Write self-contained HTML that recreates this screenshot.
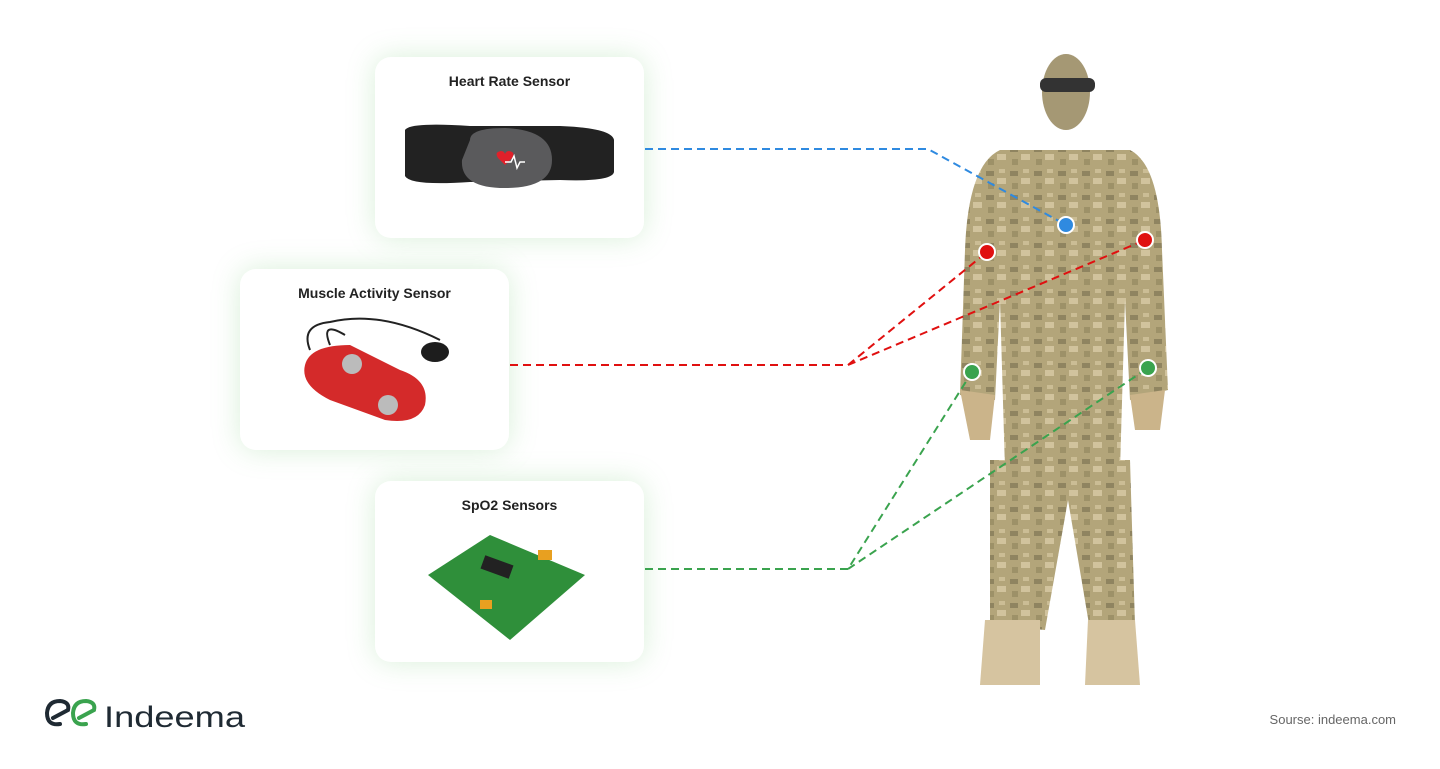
<!DOCTYPE html>
<html><head><meta charset="utf-8"><style>
body{margin:0;width:1440px;height:769px;background:#fff;position:relative;overflow:hidden;font-family:"Liberation Sans",sans-serif}
.card{position:absolute;width:269px;height:181px;background:#fff;border-radius:16px;box-shadow:0 0 28px rgba(120,200,120,.28)}
.card .t{position:absolute;top:16px;width:100%;text-align:center;font-size:14px;font-weight:bold;color:#222}
svg{position:absolute;left:0;top:0}
</style></head><body>
<div class="card" style="left:375px;top:57px"><div class="t">Heart Rate Sensor</div></div>
<div class="card" style="left:240px;top:269px"><div class="t">Muscle Activity Sensor</div></div>
<div class="card" style="left:375px;top:481px"><div class="t">SpO2 Sensors</div></div>
<svg width="1440" height="769">
<defs>
<pattern id="camo" width="24" height="24" patternUnits="userSpaceOnUse">
<rect width="24" height="24" fill="#b3a57a"/>
<rect x="2" y="3" width="8" height="5" fill="#8f8460"/>
<rect x="13" y="10" width="9" height="6" fill="#d1c39d"/>
<rect x="4" y="15" width="6" height="6" fill="#9d9168"/>
<rect x="15" y="1" width="6" height="4" fill="#cbbd95"/>
</pattern>
</defs>
<path d="M405 130 Q410 122 470 126 L560 126 Q612 128 614 140 L614 172 Q612 182 560 180 L470 182 Q410 186 405 176 Z" fill="#222"/>
<path d="M470 140 Q470 128 505 128 Q552 130 552 160 Q552 188 505 188 Q460 188 462 160 Z" fill="#5a5a5c"/>
<path d="M498 158 q-4-6 3-7 q3 0 4 3 q1-3 4-3 q7 1 3 7 l-7 7z" fill="#e0202a"/>
<polyline points="505,162 511,162 514,156 517,168 520,162 525,162" stroke="#fff" stroke-width="1.5" fill="none"/>
<path d="M330 345 Q320 320 345 335" stroke="#222" stroke-width="2" fill="none"/>
<path d="M310 350 Q300 325 330 322 Q380 310 440 340" stroke="#222" stroke-width="2" fill="none"/>
<ellipse cx="435" cy="352" rx="14" ry="10" fill="#1d1d1d"/>
<path d="M305 365 Q310 345 350 345 L400 370 Q430 380 425 405 Q418 425 385 420 L330 400 Q300 385 305 365Z" fill="#d42a2a"/>
<circle cx="352" cy="364" r="10" fill="#bbb"/><circle cx="388" cy="405" r="10" fill="#bbb"/>
<path d="M428 575 L490 535 L585 575 L510 640 Z" fill="#2f8f3a"/>
<rect x="482" y="560" width="30" height="14" fill="#222" transform="rotate(20 497 567)"/>
<rect x="538" y="550" width="14" height="10" fill="#e8a020"/><rect x="480" y="600" width="12" height="9" fill="#e8a020"/>
<g fill="url(#camo)">
<ellipse cx="1066" cy="92" rx="24" ry="38" fill="#a59874"/>
<rect x="1040" y="78" width="55" height="14" rx="6" fill="#333"/>
<path d="M1000 150 L1130 150 Q1160 165 1162 250 L1168 390 L1130 400 L1125 300 L1120 470 L1005 470 L1000 300 L995 400 L960 395 L965 250 Q968 165 1000 150Z"/>
<path d="M990 460 L1130 460 L1135 625 L1090 630 L1068 500 L1045 630 L990 625Z"/>
<path d="M960 390 L995 395 L990 440 L970 440Z" fill="#cbb48a"/>
<path d="M1130 395 L1165 390 L1160 430 L1135 430Z" fill="#cbb48a"/>
<path d="M985 620 L1040 620 L1040 685 L980 685Z" fill="#d6c4a0"/>
<path d="M1088 620 L1135 620 L1140 685 L1085 685Z" fill="#d6c4a0"/>
</g>
<g fill="none" stroke-width="2" stroke-dasharray="8 5">
<polyline points="645,149 928,149 1066,225" stroke="#2f8ae0"/>
<polyline points="510,365 848,365 987,252" stroke="#e01010"/>
<polyline points="848,365 1145,240" stroke="#e01010"/>
<polyline points="645,569 848,569 972,372" stroke="#3aa34e"/>
<polyline points="848,569 1148,368" stroke="#3aa34e"/>
</g>
<g stroke="#fff" stroke-width="2">
<circle cx="1066" cy="225" r="8" fill="#2f8ae0"/>
<circle cx="987" cy="252" r="8" fill="#e01010"/><circle cx="1145" cy="240" r="8" fill="#e01010"/>
<circle cx="972" cy="372" r="8" fill="#3aa34e"/><circle cx="1148" cy="368" r="8" fill="#3aa34e"/>
</g>
<path d="M60 724 Q47 726 47 713 Q48 701 60 701 Q70 702 68 710 L53 718" stroke="#1f2a33" stroke-width="4" fill="none" stroke-linecap="round"/>
<path d="M86 724 Q73 726 73 713 Q74 701 86 701 Q96 702 94 710 L79 718" stroke="#3aa34e" stroke-width="4" fill="none" stroke-linecap="round"/>
<text x="104" y="727" font-size="30" fill="#1f2a33" font-family="Liberation Sans" textLength="141" lengthAdjust="spacingAndGlyphs">Indeema</text>
<text x="1396" y="724" font-size="13" fill="#666" text-anchor="end" font-family="Liberation Sans">Sourse: indeema.com</text>
</svg>
</body></html>
